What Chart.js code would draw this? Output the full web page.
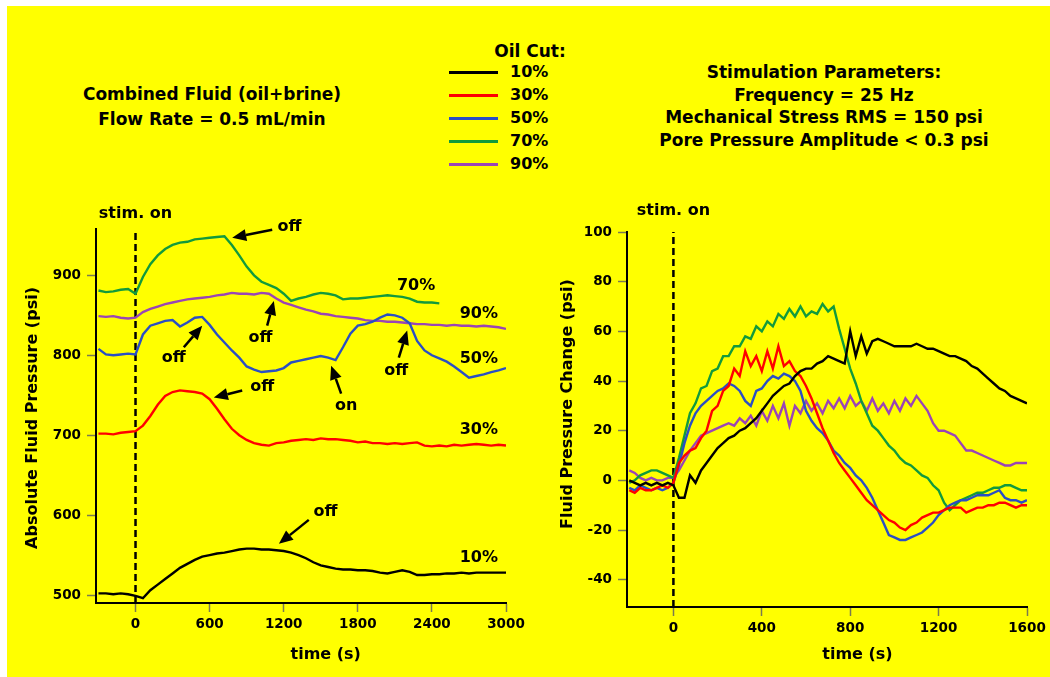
<!DOCTYPE html>
<html>
<head>
<meta charset="utf-8">
<script src="https://cdn.jsdelivr.net/npm/chart.js@4.4.1/dist/chart.umd.min.js"></script>
<style>
  html, body { margin: 0; padding: 0; background: #ffff00; }
  body { width: 1050px; height: 677px; position: relative; overflow: hidden;
         font-family: "DejaVu Sans", sans-serif; font-weight: bold; color: #000; }
  .edge { position: absolute; background: #ffffff; }
  .txt { position: absolute; text-align: center; font-size: 17px; white-space: nowrap; }
  canvas { position: absolute; }
  .leg { position: absolute; font-size: 16px; }
  .leg .ln { position: absolute; left: 449px; width: 49px; height: 3px; }
  .leg .lb { position: absolute; left: 510px; line-height: 20px; }
</style>
</head>
<body>
<div class="edge" style="left:0; top:0; width:1050px; height:6px;"></div>
<div class="edge" style="left:0; top:0; width:7px; height:677px;"></div>
<div class="txt" style="left:12px; width:400px; top:82px; line-height:25px;">Combined Fluid (oil+brine)<br>Flow Rate = 0.5 mL/min</div>
<div class="txt" style="left:624px; width:400px; top:61px; line-height:22.7px;">Stimulation Parameters:<br>Frequency = 25 Hz<br>Mechanical Stress RMS = 150 psi<br>Pore Pressure Amplitude &lt; 0.3 psi</div>
<div class="txt" style="left:430px; width:200px; top:40px; line-height:22px;">Oil Cut:</div>
<div id="legend"></div>
<canvas id="left" width="540" height="487" style="left:0; top:190px;"></canvas>
<canvas id="right" width="510" height="487" style="left:540px; top:190px;"></canvas>
<script>
// oil cut series
const cuts = ['10%', '30%', '50%', '70%', '90%'];
const colors = ['#000000', '#ff0000', '#2a4fc4', '#129a3c', '#9a45b5'];

// left panel: absolute fluid pressure (psi) vs time (s)
const timeL = [-300,-240,-180,-120,-60,0,60,120,180,240,300,360,420,480,540,600,660,720,780,840,900,960,1020,1080,1140,1200,1260,1320,1380,1440,1500,1560,1620,1680,1740,1800,1860,1920,1980,2040,2100,2160,2220,2280,2340,2400,2460,2520,2580,2640,2700,2760,2820,2880,2940,3000];
const cut10L = [502,502,501,502,501,499, 496,506,513,520,527,534,539,544,548,550, 552,553,555,557,558,558,557,557,556,555, 553,550,546,541,537,535,533,532,532,531, 531,530,528,527,529,531,529,525,525,526, 526,527,527,528,527,528,528,528,528,528];
const cut30L = [702,702,701,703,704,705, 712,724,738,749,754,756,755,754,752,745, 733,720,708,700,694,690,688,687,690,691, 693,694,695,694,696,695,695,694,693,691, 692,690,690,689,690,689,690,691,687,686, 687,686,688,687,688,689,688,687,688,687];
const cut50L = [808,801,800,801,802,801, 826,837,840,843,844,836,841,847,848,838, 826,816,806,797,786,782,779,780,781,784, 791,793,795,797,799,797,794,810,827,837, 839,842,847,851,850,847,840,818,806,800, 796,792,786,779,772,774,776,779,781,784];
const cut70L = [881,879,880,882,883,877, 898,914,925,933,938,941,942,945,946,947, 948,949,938,925,911,900,892,888,884,877, 868,871,873,876,878,877,875,870,871,871, 872,873,874,875,874,873,871,867,866,866, 865];
const cut90L = [849,848,849,847,846,847, 854,858,861,864,866,868,870,871,872,873, 875,876,878,877,877,876,878,877,871,866, 863,860,857,855,852,851,849,848,847,846, 844,843,843,842,842,841,840,839,839,838, 838,837,838,837,837,836,837,836,835,833];
const xTicksL = [0, 600, 1200, 1800, 2400, 3000];
const yTicksL = [500, 600, 700, 800, 900];

// right panel: fluid pressure change (psi) vs time (s)
const timeR = [-200,-175,-150,-125,-100,-75,-50,-25,0,25,50,75,100,125,150,175,200,225,250,275,300,325,350,375,400,425,450,475,500,525,550,575,600,625,650,675,700,725,750,775,800,825,850,875,900,925,950,975,1000,1025,1050,1075,1100,1125,1150,1175,1200,1225,1250,1275,1300,1325,1350,1375,1400,1425,1450,1475,1500,1525,1550,1575,1600];
const cut10R = [0,-1,-2,-1,-2,-1,-2,-1,-2, -7,-7,2,-1,4,7,10,13, 15,17,18,20,21,23,25,28, 31,34,36,38,39,42,44,45, 45,47,48,50,49,48,47,60, 50,58,51,56,57,56,55,54, 54,54,54,55,54,53,53,52, 51,50,50,49,48,46,45,43, 41,39,37,36,34,33,32,31];
const cut30R = [-4,-5,-3,-4,-4,-3,-2,-3,-1, 7,10,12,13,17,20,28,30, 36,38,45,42,52,46,50,44, 52,45,54,46,48,44,42,38, 33,27,21,16,11,7,4,1, -2,-5,-8,-10,-12,-14,-16,-17, -19,-20,-18,-17,-15,-14,-13,-13, -12,-11,-11,-11,-13,-12,-11,-11, -10,-10,-9,-9,-10,-11,-10,-10];
const cut50R = [-3,-4,-2,-3,-4,-3,-4,-3,-1, 6,15,22,27,30,32,34,36, 37,39,38,36,32,30,36,37, 40,42,41,43,42,40,36,28, 24,21,19,16,12,10,7,5, 2,0,-3,-7,-12,-17,-22,-23, -24,-24,-23,-22,-21,-19,-17,-14, -12,-10,-9,-8,-8,-7,-6,-6, -6,-5,-4,-7,-8,-8,-9,-8];
const cut70R = [-1,0,2,3,4,4,3,2,1, 9,18,27,31,37,38,44,45, 50,50,54,54,58,57,62,60, 64,62,67,65,69,66,70,66, 68,67,71,68,70,61,53,45, 39,32,27,22,20,17,14,12, 9,7,6,4,2,1,-2,-4, -9,-12,-10,-8,-7,-6,-5,-5, -4,-3,-3,-2,-2,-3,-4,-4];
const cut90R = [4,3,1,0,1,0,0,1,1, 4,8,12,15,18,19,20,21, 22,23,22,25,23,26,22,28, 24,30,25,31,22,30,27,32, 28,31,27,32,29,33,29,34, 30,32,28,33,28,31,27,32, 28,33,30,34,31,28,23,20, 20,19,18,15,12,12,11,10, 9,8,7,6,6,7,7,7];
const xTicksR = [0, 400, 800, 1200, 1600];
const yTicksR = [-40, -20, 0, 20, 40, 60, 80, 100];

// labels and arrows, in data units
const labelsL = [
  {text: 'stim. on', x: 0, y: 977},
  {text: 'off', x: 1247, y: 961}, {text: '70%', x: 2272, y: 887}, {text: '90%', x: 2780, y: 852},
  {text: '50%', x: 2780, y: 795}, {text: '30%', x: 2780, y: 707}, {text: '10%', x: 2780, y: 546},
  {text: 'off', x: 1012, y: 822}, {text: 'off', x: 310, y: 797}, {text: 'on', x: 1706, y: 737},
  {text: 'off', x: 2111, y: 781}, {text: 'off', x: 1026, y: 760}, {text: 'off', x: 1538, y: 604}
];
const arrowsL = [
  [1107, 957, 783, 947], [1066, 837, 1120, 868], [391, 810, 540, 837], [1665, 752, 1584, 787],
  [2132, 797, 2200, 831], [864, 756, 634, 747], [1403, 594, 1161, 564]
];
const labelsR = [{text: 'stim. on', x: 0, y: 108.5}];

Chart.defaults.font.family = '"DejaVu Sans", sans-serif';
Chart.defaults.font.weight = 'bold';
Chart.defaults.color = '#000';

// legend
const legend = document.getElementById('legend');
cuts.forEach((c, i) => {
  const top = 72 + i * 23.1;
  legend.insertAdjacentHTML('beforeend',
    `<div class="leg"><div class="ln" style="top:${top - 1.5}px;background:${colors[i]}"></div>` +
    `<div class="lb" style="top:${top - 10}px">${c}</div></div>`);
});

function drawArrow(ctx, x1, y1, x2, y2) {
  const a = Math.atan2(y2 - y1, x2 - x1), L = 14, W = 6;
  const bx = x2 - L * Math.cos(a), by = y2 - L * Math.sin(a);
  ctx.beginPath(); ctx.moveTo(x1, y1); ctx.lineTo(bx, by); ctx.stroke();
  ctx.beginPath(); ctx.moveTo(x2, y2);
  ctx.lineTo(bx + W * Math.sin(a), by - W * Math.cos(a));
  ctx.lineTo(bx - W * Math.sin(a), by + W * Math.cos(a));
  ctx.closePath(); ctx.fill();
}

const notes = {
  id: 'notes',
  afterDatasetsDraw(chart, args, o) {
    const {ctx, chartArea} = chart;
    const x = chart.scales.x, y = chart.scales.y;
    ctx.save();
    ctx.fillStyle = '#000'; ctx.strokeStyle = '#000'; ctx.lineWidth = 2.5;
    ctx.font = 'bold 16px "DejaVu Sans"';
    ctx.textAlign = 'center'; ctx.textBaseline = 'middle';
    o.labels.forEach(l => ctx.fillText(l.text, x.getPixelForValue(l.x), y.getPixelForValue(l.y)));
    o.arrows.forEach(a => drawArrow(ctx, x.getPixelForValue(a[0]), y.getPixelForValue(a[1]),
                                         x.getPixelForValue(a[2]), y.getPixelForValue(a[3])));
    ctx.fillText(o.xTitle, x.getPixelForValue(o.xTitleAt), chartArea.bottom + o.xTitleGap);
    ctx.translate(o.yTitleX, o.yTitleY);
    ctx.rotate(-Math.PI / 2);
    ctx.fillText(o.yTitle, 0, 0);
    ctx.restore();
  }
};

function axis(min, max, ticks, fit, horizontal) {
  return {
    type: 'linear', min, max,
    afterBuildTicks: s => { s.ticks = ticks.map(v => ({value: v})); },
    afterFit: s => { if (horizontal) s.height = fit; else s.width = fit; },
    border: {display: true, color: '#000', width: 2},
    grid: {drawOnChartArea: false, drawTicks: true, tickLength: 9, tickColor: '#7a7a50', tickWidth: 1.5},
    ticks: {color: '#000', font: {size: 13.5, weight: 'bold'}, padding: horizontal ? 4 : 6,
            maxRotation: 0, autoSkip: false, callback: v => String(v)}
  };
}

function makeChart(id, time, series, stim, x, y, pad, notesOpts) {
  const datasets = series.map((s, i) => ({
    data: s.map((v, k) => ({x: time[k], y: v})),
    borderColor: colors[i], borderWidth: 2.4, pointRadius: 0, tension: 0, fill: false
  }));
  datasets.push({
    data: stim, borderColor: '#000', borderWidth: 2.5, borderDash: [7, 4], pointRadius: 0, fill: false
  });
  return new Chart(document.getElementById(id), {
    type: 'line',
    data: {datasets},
    options: {
      responsive: false, animation: false,
      layout: {padding: pad},
      scales: {x, y},
      plugins: {legend: {display: false}, tooltip: {enabled: false}, notes: notesOpts}
    },
    plugins: [notes]
  });
}

makeChart('left', timeL, [cut10L, cut30L, cut50L, cut70L, cut90L],
  [{x: 0, y: 490}, {x: 0, y: 958}],
  axis(-320, 3000, xTicksL, 74, true), axis(490, 958, yTicksL, 96, false),
  {top: 39, right: 34, left: 0, bottom: 0},
  {labels: labelsL, arrows: arrowsL, xTitle: 'time (s)', xTitleAt: 1540, xTitleGap: 52,
   yTitle: 'Absolute Fluid Pressure (psi)', yTitleX: 33, yTitleY: 228});

makeChart('right', timeR, [cut10R, cut30R, cut50R, cut70R, cut90R],
  [{x: 0, y: -51}, {x: 0, y: 100}],
  axis(-210, 1600, xTicksR, 70, true), axis(-51, 100, yTicksR, 87, false),
  {top: 42, right: 23, left: 0, bottom: 0},
  {labels: labelsR, arrows: [], xTitle: 'time (s)', xTitleAt: 833, xTitleGap: 48,
   yTitle: 'Fluid Pressure Change (psi)', yTitleX: 28, yTitleY: 214});
</script>
</body>
</html>
